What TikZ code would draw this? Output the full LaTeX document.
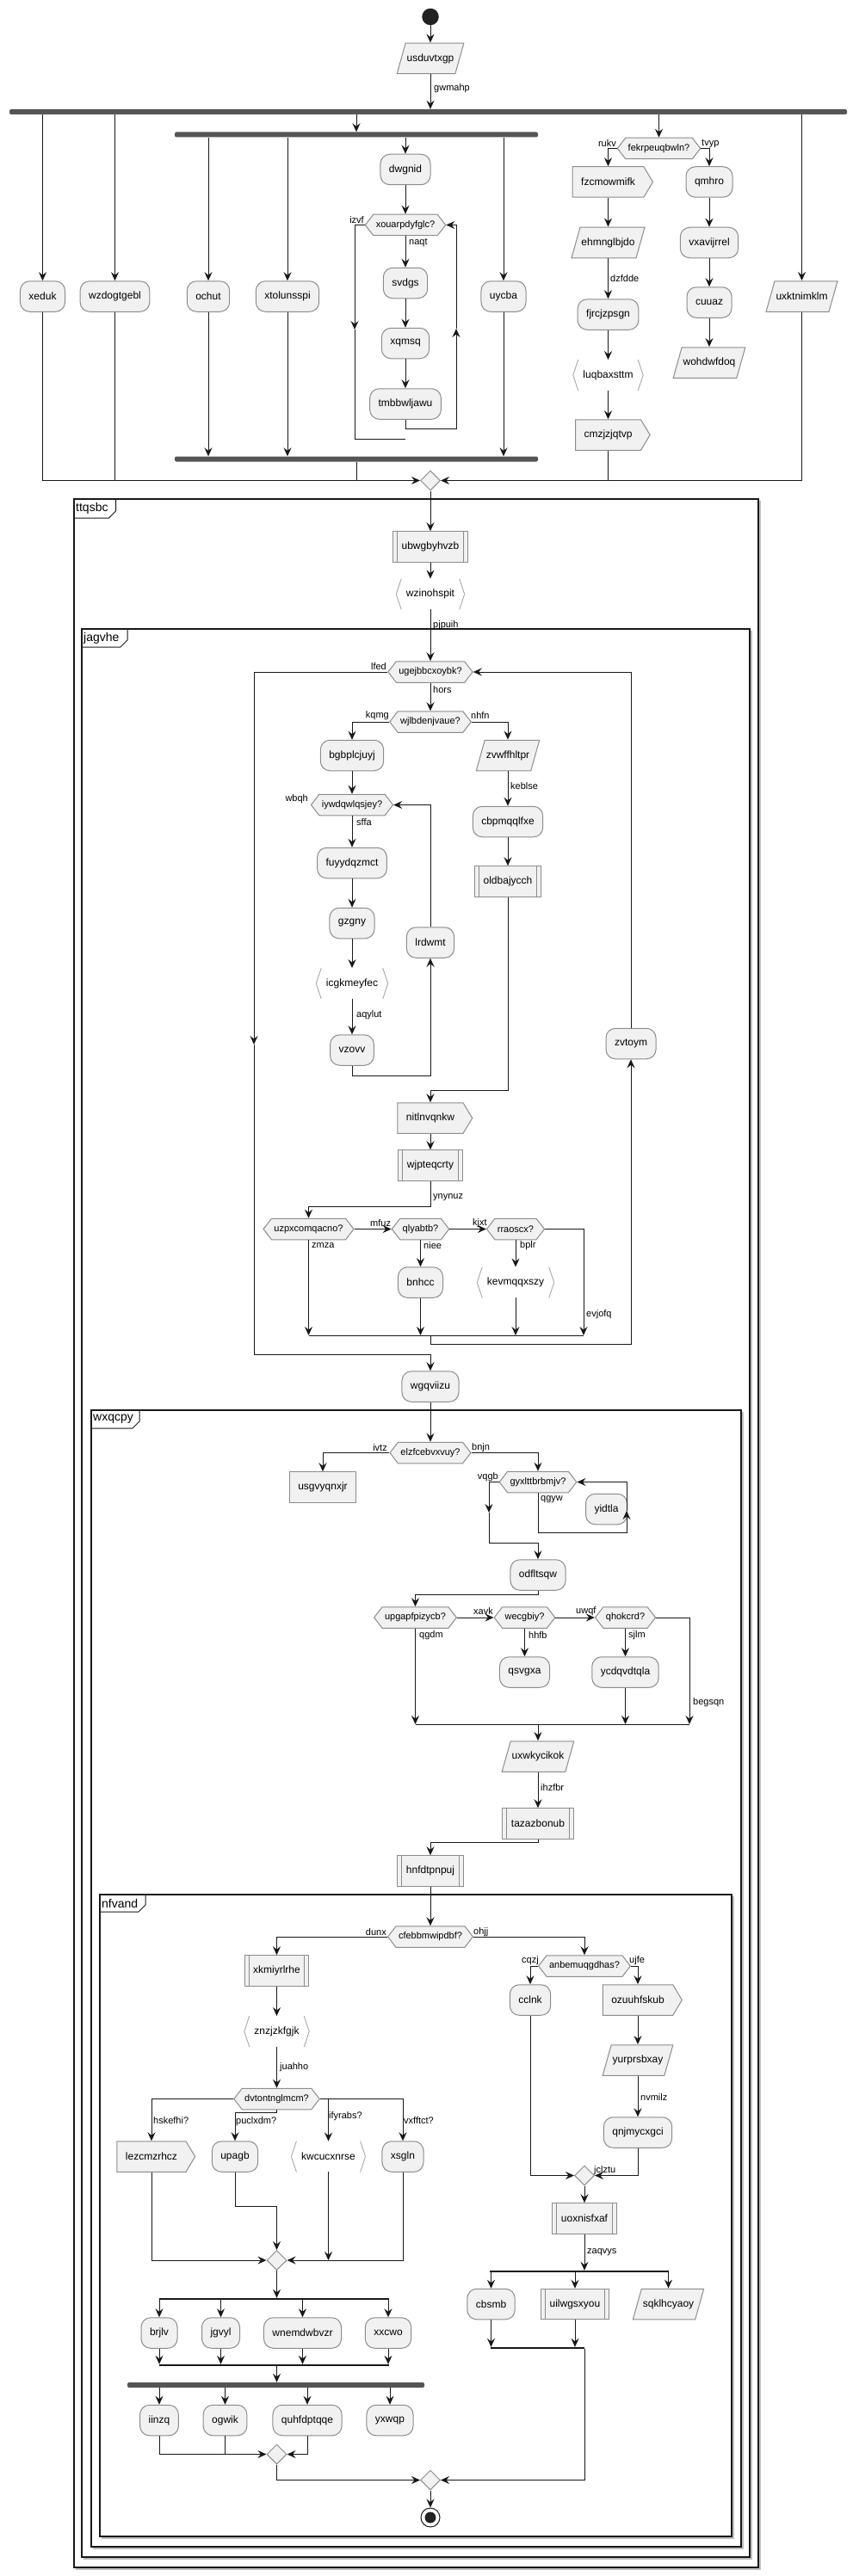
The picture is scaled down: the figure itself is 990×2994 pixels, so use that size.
\documentclass[tikz,border=0pt]{standalone}
\usepackage{fontspec}
\setmainfont{Liberation Sans}
\usetikzlibrary{arrows.meta,shapes.geometric,shapes.symbols}
\definecolor{boxfill}{HTML}{F1F1F1}
\definecolor{boxline}{HTML}{8C8C8C}
\definecolor{lineC}{HTML}{181818}
\definecolor{barC}{HTML}{555555}
\definecolor{brkC}{HTML}{9E9E9E}
\definecolor{startC}{HTML}{222222}
\newcommand{\actfont}{\fontsize{12}{14}\selectfont}
\newcommand{\smallfont}{\fontsize{11}{13}\selectfont}
% partition frame: x1, y1, x2, y2, tab right, tab bottom, title
\newcommand{\partframe}[7]{%
  \draw[gray!50,line width=1.5pt] (#1+2,#4+2) -- (#3+2,#4+2) -- (#3+2,#2+2);
  \draw[lineC,line width=1.5pt] (#1,#2) rectangle (#3,#4);
  \draw[lineC,line width=1pt] (#1,#6) -- (#5-8,#6) -- (#5,#6-8) -- (#5,#2);
  \node[anchor=west,inner sep=0,font=\fontsize{14}{16}\selectfont] (#7) at (#1+2,{(#2+#6)/2}) {#7};
}
\tikzset{
  box/.style={draw=boxline, fill=boxfill, line width=1pt, font=\actfont,
    minimum height=35.5, inner xsep=10, inner ysep=0},
  act/.style={box, rounded corners=11},
  plainbox/.style={box},
  sub/.style={box, path picture={
    \draw[boxline,line width=1pt]
      ([xshift=5]path picture bounding box.north west) -- ([xshift=5]path picture bounding box.south west)
      ([xshift=-5]path picture bounding box.north east) -- ([xshift=-5]path picture bounding box.south east);}},
  io/.style={rectangle, font=\actfont, minimum height=36.5, inner xsep=12, inner ysep=0,
    path picture={
    \draw[boxline, fill=boxfill, line width=1pt]
      ([xshift=10.5,yshift=-0.5]path picture bounding box.north west) --
      ([xshift=-0.5,yshift=-0.5]path picture bounding box.north east) --
      ([xshift=-10.5,yshift=0.5]path picture bounding box.south east) --
      ([xshift=0.5,yshift=0.5]path picture bounding box.south west) -- cycle;}},
  send/.style={box, signal, signal to=east, signal pointer angle=118},
  dec/.style={box, signal, signal to=east and west, signal pointer angle=105,
    font=\smallfont, minimum height=24.5, inner xsep=3},
  brkline/.style={draw=brkC, line width=0.8pt, -},
  brk/.style={rectangle, font=\actfont, minimum height=35.5, inner xsep=11.5, inner ysep=0,
    append after command={
      ([xshift=6]\tikzlastnode.north west) edge[brkline] (\tikzlastnode.west)
      (\tikzlastnode.west) edge[brkline] ([xshift=6]\tikzlastnode.south west)
      ([xshift=-6]\tikzlastnode.north east) edge[brkline] (\tikzlastnode.east)
      (\tikzlastnode.east) edge[brkline] ([xshift=-6]\tikzlastnode.south east)}},
  merge/.style={diamond, draw=boxline, fill=boxfill, line width=1pt,
    minimum width=23, minimum height=23, inner sep=0},
  bar/.style={rectangle, fill=barC, rounded corners=2, minimum height=6, inner sep=0},
  splitbar/.style={rectangle, fill=lineC, minimum height=2, inner sep=0},
  conn/.style={draw=lineC, line width=1pt},
  arr/.style={conn, -{Stealth[length=10pt,width=9pt,inset=3.5pt]}},
  lbl/.style={font=\smallfont, inner sep=0, anchor=west},
  lbll/.style={lbl, anchor=east}
}

\begin{document}
\begin{tikzpicture}[x=1pt,y=-1pt]
    \useasboundingbox (0,0) rectangle (990,2994);

    % Partitions
    \partframe{86}{580}{881}{2984}{134.5}{602}{ttqsbc}
    \partframe{95}{731}{871}{2972}{148}{752}{jagvhe}
    \partframe{106}{1639}{861}{2960}{162}{1660}{wxqcpy}
    \partframe{116}{2202}{850}{2948}{169}{2222}{nfvand}

    % Top part
    \node[circle, fill=startC, minimum size=19.5, inner sep=0] (start) at (500,19.5) {};
    \node[io] (usduvtxgp) at (500,68) {usduvtxgp};
    \node[bar, minimum width=973] (fork1) at (497.5,130) {};
    \node[bar, minimum width=422] (fork2) at (414,156.5) {};
    \node[act] (xeduk) at (49.5,344.5) {xeduk};
    \node[act] (wzdogtgebl) at (133.5,344.5) {wzdogtgebl};
    \node[act] (ochut) at (242,344.5) {ochut};
    \node[act] (xtolunsspi) at (334,344.5) {xtolunsspi};
    \node[act] (dwgnid) at (471,197) {dwgnid};
    \node[dec] (xouarpdyfglc) at (471,261.5) {xouarpdyfglc?};
    \node[act] (svdgs) at (471,329) {svdgs};
    \node[act] (xqmsq) at (471,399) {xqmsq};
    \node[act] (tmbbwljawu) at (471,469.5) {tmbbwljawu};
    \node[act] (uycba) at (585,344.5) {uycba};
    \node[bar, minimum width=422] (join2) at (414,533.5) {};
    \node[dec] (fekrpeuqbwln) at (765.5,172.5) {fekrpeuqbwln?};
    \node[send] (fzcmowmifk) at (706.5,211.5) {fzcmowmifk};
    \node[io] (ehmnglbjdo) at (706.5,282) {ehmnglbjdo};
    \node[act] (fjrcjzpsgn) at (706.5,365.5) {fjrcjzpsgn};
    \node[brk] (luqbaxsttm) at (706.5,436) {luqbaxsttm};
    \node[send] (cmzjzjqtvp) at (706.5,505.5) {cmzjzjqtvp};
    \node[act] (qmhro) at (824,211.5) {qmhro};
    \node[act] (vxavijrrel) at (824,282) {vxavijrrel};
    \node[act] (cuuaz) at (824,351.5) {cuuaz};
    \node[io] (wohdwfdoq) at (824,421.5) {wohdwfdoq};
    \node[io] (uxktnimklm) at (931.5,344.5) {uxktnimklm};
    \node[merge] (merge1) at (500,558.5) {};

    % ttqsbc / jagvhe
    \node[sub] (ubwgbyhvzb) at (500,635.5) {ubwgbyhvzb};
    \node[brk] (wzinohspit) at (500,690.5) {wzinohspit};
    \node[dec] (ugejbbcxoybk) at (500,781) {ugejbbcxoybk?};
    \node[dec] (wjlbdenjvaue) at (500,839) {wjlbdenjvaue?};
    \node[act] (bgbplcjuyj) at (409,878) {bgbplcjuyj};
    \node[io] (zvwffhltpr) at (590,878) {zvwffhltpr};
    \node[dec] (iywdqwlqsjey) at (409,935.5) {iywdqwlqsjey?};
    \node[act] (cbpmqqlfxe) at (590,955) {cbpmqqlfxe};
    \node[act] (fuyydqzmct) at (409,1003) {fuyydqzmct};
    \node[sub] (oldbajycch) at (590,1024.5) {oldbajycch};
    \node[act] (gzgny) at (409,1073) {gzgny};
    \node[act] (lrdwmt) at (500,1095.5) {lrdwmt};
    \node[brk] (icgkmeyfec) at (409,1143) {icgkmeyfec};
    \node[act] (vzovv) at (409,1220.5) {vzovv};
    \node[act] (zvtoym) at (733,1213) {zvtoym};
    \node[send] (nitlnvqnkw) at (500,1299.5) {nitlnvqnkw};
    \node[sub] (wjpteqcrty) at (500,1354.5) {wjpteqcrty};
    \node[dec] (uzpxcomqacno) at (358.5,1428.5) {uzpxcomqacno?};
    \node[dec] (qlyabtb) at (488.5,1428.5) {qlyabtb?};
    \node[dec] (rraoscx) at (599,1428.5) {rraoscx?};
    \node[act] (bnhcc) at (488.5,1490.5) {bnhcc};
    \node[brk] (kevmqqxszy) at (599,1490.5) {kevmqqxszy};
    \node[act] (wgqviizu) at (500,1611.5) {wgqviizu};

    % wxqcpy
    \node[dec] (elzfcebvxvuy) at (500,1688.5) {elzfcebvxvuy?};
    \node[plainbox] (usgvyqnxjr) at (375,1728.5) {usgvyqnxjr};
    \node[dec] (gyxlttbrbmjv) at (625,1722.5) {gyxlttbrbmjv?};
    \node[act] (yidtla) at (704.5,1754) {yidtla};
    \node[act] (odfltsqw) at (625,1830.5) {odfltsqw};
    \node[dec] (upgapfpizycb) at (482.5,1880) {upgapfpizycb?};
    \node[dec] (wecgbiy) at (609.5,1880) {wecgbiy?};
    \node[dec] (qhokcrd) at (726.5,1880) {qhokcrd?};
    \node[act] (qsvgxa) at (609.5,1943.5) {qsvgxa};
    \node[act] (ycdqvdtqla) at (726.5,1943.5) {ycdqvdtqla};
    \node[io] (uxwkycikok) at (625,2041.5) {uxwkycikok};
    \node[sub] (tazazbonub) at (625,2119.5) {tazazbonub};
    \node[sub] (hnfdtpnpuj) at (500,2174.5) {hnfdtpnpuj};

    % nfvand
    \node[dec] (cfebbmwipdbf) at (500,2251) {cfebbmwipdbf?};
    \node[sub] (xkmiyrlrhe) at (321.5,2290.5) {xkmiyrlrhe};
    \node[dec] (anbemuqgdhas) at (679,2285) {anbemuqgdhas?};
    \node[act] (cclnk) at (616,2324.5) {cclnk};
    \node[send] (ozuuhfskub) at (741,2324.5) {ozuuhfskub};
    \node[brk] (znzjzkfgjk) at (321.5,2361) {znzjzkfgjk};
    \node[io] (yurprsbxay) at (741,2394.5) {yurprsbxay};
    \node[dec] (dvtontnglmcm) at (321.5,2439.5) {dvtontnglmcm?};
    \node[act] (qnjmycxgci) at (741,2478.5) {qnjmycxgci};
    \node[send] (lezcmzrhcz) at (176,2506.5) {lezcmzrhcz};
    \node[act] (upagb) at (273,2506.5) {upagb};
    \node[brk] (kwcucxnrse) at (381.5,2506.5) {kwcucxnrse};
    \node[act] (xsgln) at (468,2506.5) {xsgln};
    \node[merge] (merge7) at (679,2528.5) {};
    \node[sub] (uoxnisfxaf) at (679,2578.5) {uoxnisfxaf};
    \node[merge] (merge4) at (321.5,2627) {};
    \node[splitbar, minimum width=208] (split2) at (673,2640) {};
    \node[act] (cbsmb) at (570.5,2678) {cbsmb};
    \node[sub] (uilwgsxyou) at (668,2678) {uilwgsxyou};
    \node[io] (sqklhcyaoy) at (776.5,2678) {sqklhcyaoy};
    \node[splitbar, minimum width=109] (splitend2) at (624.5,2729) {};
    \node[splitbar, minimum width=267] (split1) at (318.5,2672) {};
    \node[act] (brjlv) at (185,2711.5) {brjlv};
    \node[act] (jgvyl) at (256.5,2711.5) {jgvyl};
    \node[act] (wnemdwbvzr) at (351.5,2711.5) {wnemdwbvzr};
    \node[act] (xxcwo) at (451,2711.5) {xxcwo};
    \node[splitbar, minimum width=267] (splitend1) at (318.5,2749) {};
    \node[bar, minimum width=345] (fork3) at (320.5,2772) {};
    \node[act] (iinzq) at (185,2813) {iinzq};
    \node[act] (ogwik) at (261.5,2813) {ogwik};
    \node[act] (quhfdptqqe) at (357,2813) {quhfdptqqe};
    \node[act] (yxwqp) at (453,2813) {yxwqp};
    \node[merge] (merge5) at (321.5,2852.5) {};
    \node[merge] (merge6) at (500,2882.5) {};
    \node[circle, draw=lineC, line width=1pt, fill=white, minimum size=22, inner sep=0] (end) at (500,2926) {};
    \node[circle, fill=startC, minimum size=13, inner sep=0] (endcore) at (500,2926) {};

    % Bend points
    \coordinate (lp1b) at (530,498);
    \coordinate (lp1m) at (530,382);
    \coordinate (ex1m) at (412,383);
    \coordinate (ex1e) at (471,510);
    \coordinate (lp2b) at (500,1250);
    \coordinate (oldbend) at (590,1267);
    \coordinate (wjbend) at (500,1402);
    \coordinate (m2l) at (358.5,1552);
    \coordinate (m2r) at (678,1552);
    \coordinate (m2c) at (500,1552);
    \coordinate (lp3b) at (733,1562);
    \coordinate (ex3m) at (295,1214);
    \coordinate (ex3b) at (295,1574);
    \coordinate (lp4b) at (728,1781);
    \coordinate (lp4m) at (728,1756);
    \coordinate (ex4m) at (568,1758);
    \coordinate (ex4b) at (568,1793);
    \coordinate (odbend) at (625,1853);
    \coordinate (m3l) at (482.5,2004);
    \coordinate (m3r) at (801,2004);
    \coordinate (tzbend) at (625,2141);
    \coordinate (dvbend) at (321.5,2455);
    \coordinate (upbend) at (273,2564);

    % Edges
    \foreach \source/\target in {start/usduvtxgp, dwgnid/xouarpdyfglc, xouarpdyfglc/svdgs, svdgs/xqmsq,
        xqmsq/tmbbwljawu, fzcmowmifk/ehmnglbjdo, ehmnglbjdo/fjrcjzpsgn, fjrcjzpsgn/luqbaxsttm,
        luqbaxsttm/cmzjzjqtvp, qmhro/vxavijrrel, vxavijrrel/cuuaz, cuuaz/wohdwfdoq,
        merge1/ubwgbyhvzb, ubwgbyhvzb/wzinohspit, wzinohspit/ugejbbcxoybk, ugejbbcxoybk/wjlbdenjvaue,
        bgbplcjuyj/iywdqwlqsjey, iywdqwlqsjey/fuyydqzmct, fuyydqzmct/gzgny, gzgny/icgkmeyfec,
        icgkmeyfec/vzovv, zvwffhltpr/cbpmqqlfxe, cbpmqqlfxe/oldbajycch, nitlnvqnkw/wjpteqcrty,
        qlyabtb/bnhcc, rraoscx/kevmqqxszy, wgqviizu/elzfcebvxvuy, wecgbiy/qsvgxa, qhokcrd/ycdqvdtqla,
        uxwkycikok/tazazbonub, hnfdtpnpuj/cfebbmwipdbf, xkmiyrlrhe/znzjzkfgjk, znzjzkfgjk/dvtontnglmcm,
        ozuuhfskub/yurprsbxay, yurprsbxay/qnjmycxgci, merge7/uoxnisfxaf, merge6/end} {
            \draw[arr] (\source.south) -- (\target.north);
        }
    \foreach \source/\target in {uzpxcomqacno/qlyabtb, qlyabtb/rraoscx, upgapfpizycb/wecgbiy, wecgbiy/qhokcrd} {
            \draw[arr] (\source.east) -- (\target.west);
        }

    % forks and joins
    \draw[arr] (usduvtxgp.south) -- (usduvtxgp |- fork1.north);
    \foreach \n in {xeduk, wzdogtgebl, fork2, fekrpeuqbwln, uxktnimklm}
        \draw[arr] (\n |- fork1.south) -- (\n.north);
    \foreach \n in {ochut, xtolunsspi, dwgnid, uycba}
        \draw[arr] (\n |- fork2.south) -- (\n.north);
    \foreach \n in {ochut, xtolunsspi, uycba}
        \draw[arr] (\n.south) -- (\n |- join2.north);
    \draw[arr] (fekrpeuqbwln.west) -| (fzcmowmifk.north);
    \draw[arr] (fekrpeuqbwln.east) -| (qmhro.north);
    \draw[arr] (tmbbwljawu.south) |- (lp1b) -- (lp1m);
    \draw[arr] (lp1m) |- (xouarpdyfglc.east);
    \draw[arr] (xouarpdyfglc.west) -| (ex1m);
    \draw[conn] (ex1m) |- (ex1e);
    \draw[arr] (xeduk.south) |- (merge1.west);
    \draw[conn] (wzdogtgebl.south) -- (wzdogtgebl |- merge1);
    \draw[conn] (join2.south) -- (join2 |- merge1);
    \draw[conn] (cmzjzjqtvp.south) -- (cmzjzjqtvp |- merge1);
    \draw[arr] (uxktnimklm.south) |- (merge1.east);

    % jagvhe loops
    \draw[arr] (wjlbdenjvaue.west) -| (bgbplcjuyj.north);
    \draw[arr] (wjlbdenjvaue.east) -| (zvwffhltpr.north);
    \draw[arr] (vzovv.south) |- (lp2b) -- (lrdwmt.south);
    \draw[arr] (lrdwmt.north) |- (iywdqwlqsjey.east);
    \draw[arr] (oldbajycch.south) -- (oldbend) -| (nitlnvqnkw.north);
    \draw[arr] (wjpteqcrty.south) -- (wjbend) -| (uzpxcomqacno.north);
    \draw[arr] (uzpxcomqacno.south) -- (m2l);
    \draw[arr] (bnhcc.south) -- (bnhcc |- m2l);
    \draw[arr] (kevmqqxszy.south) -- (kevmqqxszy |- m2l);
    \draw[arr] (rraoscx.east) -| (m2r);
    \draw[conn] (m2l) -- (m2r);
    \draw[arr] (m2c) |- (lp3b) -- (zvtoym.south);
    \draw[arr] (zvtoym.north) |- (ugejbbcxoybk.east);
    \draw[arr] (ugejbbcxoybk.west) -| (ex3m);
    \draw[arr] (ex3m) -- (ex3b) -| (wgqviizu.north);

    % wxqcpy edges
    \draw[arr] (elzfcebvxvuy.west) -| (usgvyqnxjr.north);
    \draw[arr] (elzfcebvxvuy.east) -| (gyxlttbrbmjv.north);
    \draw[arr] (gyxlttbrbmjv.south) |- (lp4b) -- (lp4m);
    \draw[arr] (lp4m) |- (gyxlttbrbmjv.east);
    \draw[arr] (gyxlttbrbmjv.west) -| (ex4m);
    \draw[arr] (ex4m) -- (ex4b) -| (odfltsqw.north);
    \draw[arr] (odfltsqw.south) -- (odbend) -| (upgapfpizycb.north);
    \draw[arr] (upgapfpizycb.south) -- (m3l);
    \draw[arr] (ycdqvdtqla.south) -- (ycdqvdtqla |- m3l);
    \draw[arr] (qhokcrd.east) -| (m3r);
    \draw[conn] (m3l) -- (m3r);
    \draw[arr] (uxwkycikok |- m3l) -- (uxwkycikok.north);
    \draw[arr] (tazazbonub.south) -- (tzbend) -| (hnfdtpnpuj.north);

    % nfvand edges
    \draw[arr] (cfebbmwipdbf.west) -| (xkmiyrlrhe.north);
    \draw[arr] (cfebbmwipdbf.east) -| (anbemuqgdhas.north);
    \draw[arr] (anbemuqgdhas.west) -| (cclnk.north);
    \draw[arr] (anbemuqgdhas.east) -| (ozuuhfskub.north);
    \draw[arr] (dvtontnglmcm.west) -| (lezcmzrhcz.north);
    \draw[arr] (dvtontnglmcm.south) -- (dvbend) -| (upagb.north);
    \draw[arr] (dvtontnglmcm.east) -| (kwcucxnrse.north);
    \draw[arr] (dvtontnglmcm.east) -| (xsgln.north);
    \draw[arr] (lezcmzrhcz.south) |- (merge4.west);
    \draw[arr] (upagb.south) -- (upbend) -| (merge4.north);
    \draw[arr] (kwcucxnrse.south) -- (kwcucxnrse |- merge4);
    \draw[arr] (xsgln.south) |- (merge4.east);
    \draw[arr] (cclnk.south) |- (merge7.west);
    \draw[arr] (qnjmycxgci.south) |- (merge7.east);
    \draw[arr] (uoxnisfxaf.south) -- (uoxnisfxaf |- split2.north);
    \foreach \n in {cbsmb, uilwgsxyou, sqklhcyaoy}
        \draw[arr] (\n |- split2.south) -- (\n.north);
    \foreach \n in {cbsmb, uilwgsxyou}
        \draw[arr] (\n.south) -- (\n |- splitend2.north);
    \draw[arr] (merge7 |- splitend2.south) |- (merge6.east);
    \draw[arr] (merge4.south) -- (merge4 |- split1.north);
    \foreach \n in {brjlv, jgvyl, wnemdwbvzr, xxcwo} {
            \draw[arr] (\n |- split1.south) -- (\n.north);
            \draw[arr] (\n.south) -- (\n |- splitend1.north);
        }
    \draw[arr] (merge4 |- splitend1.south) -- (merge4 |- fork3.north);
    \foreach \n in {iinzq, ogwik, quhfdptqqe, yxwqp}
        \draw[arr] (\n |- fork3.south) -- (\n.north);
    \draw[arr] (iinzq.south) |- (merge5.west);
    \draw[conn] (ogwik.south) -- (ogwik |- merge5);
    \draw[arr] (quhfdptqqe.south) |- (merge5.east);
    \draw[arr] (merge5.south) |- (merge6.west);

    % Edge labels
    \node[lbl] (l-gwmahp) at (504,103) {gwmahp};
    \node[lbll] (l-izvf) at (423,256) {izvf};
    \node[lbl] (l-naqt) at (475,282) {naqt};
    \node[lbll] (l-rukv) at (716,167) {rukv};
    \node[lbl] (l-tvyp) at (815,167) {tvyp};
    \node[lbl] (l-dzfdde) at (709,324) {dzfdde};
    \node[lbl] (l-pjpuih) at (503,727) {pjpuih};
    \node[lbll] (l-lfed) at (449,775) {lfed};
    \node[lbl] (l-hors) at (503,802) {hors};
    \node[lbll] (l-kqmg) at (452,832) {kqmg};
    \node[lbl] (l-nhfn) at (547,832) {nhfn};
    \node[lbl] (l-keblse) at (593,914) {keblse};
    \node[lbll] (l-wbqh) at (358,929) {wbqh};
    \node[lbl] (l-sffa) at (414,956) {sffa};
    \node[lbl] (l-aqylut) at (414,1180) {aqylut};
    \node[lbl] (l-ynynuz) at (503,1392) {ynynuz};
    \node[lbl] (l-mfuz) at (430,1422) {mfuz};
    \node[lbl] (l-kjxt) at (549,1422) {kjxt};
    \node[lbl] (l-zmza) at (362,1448) {zmza};
    \node[lbl] (l-niee) at (492,1448) {niee};
    \node[lbl] (l-bplr) at (604,1448) {bplr};
    \node[lbl] (l-evjofq) at (681,1528) {evjofq};
    \node[lbll] (l-ivtz) at (450,1683) {ivtz};
    \node[lbl] (l-bnjn) at (548,1683) {bnjn};
    \node[lbll] (l-vqgb) at (579,1717) {vqgb};
    \node[lbl] (l-qgyw) at (628,1743) {qgyw};
    \node[lbl] (l-xavk) at (550,1873) {xavk};
    \node[lbl] (l-uwqf) at (669,1873) {uwqf};
    \node[lbl] (l-qgdm) at (487,1901) {qgdm};
    \node[lbl] (l-hhfb) at (614,1901) {hhfb};
    \node[lbl] (l-sjlm) at (730,1901) {sjlm};
    \node[lbl] (l-begsqn) at (805,1979) {begsqn};
    \node[lbl] (l-ihzfbr) at (628,2078) {ihzfbr};
    \node[lbll] (l-dunx) at (449,2246) {dunx};
    \node[lbl] (l-ohjj) at (550,2246) {ohjj};
    \node[lbll] (l-cqzj) at (626,2279) {cqzj};
    \node[lbl] (l-ujfe) at (731,2279) {ujfe};
    \node[lbl] (l-juahho) at (325,2403) {juahho};
    \node[lbl] (l-nvmilz) at (744,2437) {nvmilz};
    \node[lbl] (l-ifyrabs) at (382,2460) {ifyrabs?};
    \node[lbl] (l-hskefhi) at (178,2465) {hskefhi?};
    \node[lbl] (l-vxfftct) at (469,2465) {vxfftct?};
    \node[lbl] (l-puclxdm) at (274,2466) {puclxdm?};
    \node[lbl] (l-jclztu) at (690,2523) {jclztu};
    \node[lbl] (l-zaqvys) at (682,2618) {zaqvys};
\end{tikzpicture}
\end{document}
